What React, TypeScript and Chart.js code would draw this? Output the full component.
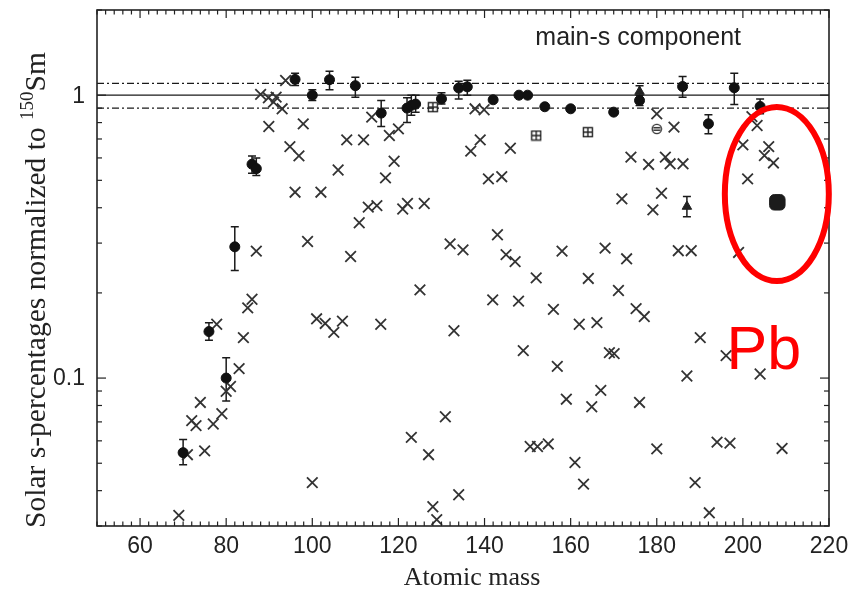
import React, { useEffect, useRef } from "react";
import { Chart, registerables } from "chart.js";
Chart.register(...registerables);

// ---- Data ----
// Other isotopes (crosses)
const crossMass = [
  69, 71, 72, 73, 74, 75, 77, 77.8, 79, 80, 81, 83, 84, 85, 86, 87, 88, 89.8, 91.6, 91, 93, 89.9,
  93.8, 94.8, 96.9, 97.9, 96, 98.9, 100, 101, 102, 103, 105, 106, 107, 108, 108.9, 110.9, 111.9,
  113, 113.8, 115, 115.9, 117, 117.9, 119, 120, 121, 122.1, 123, 125, 126, 127, 128, 128.9, 130.9,
  132, 132.9, 134, 135, 136.8, 137.8, 139, 139.9, 140.9, 141.9, 143, 144, 145, 146, 147.1, 147.9,
  149, 150.6, 152.3, 154.8, 152, 156, 156.9, 158, 159, 161, 162, 163, 164.1, 164.9, 166.1, 167,
  168, 169, 170.1, 171.1, 171.9, 173, 174, 175.2, 176, 177.1, 178.1, 179.1, 180, 180, 181.1, 182,
  183.1, 184, 185, 186.1, 187, 188, 188.9, 190.1, 192.2, 194, 196.1, 197, 199, 200, 201.1, 202.1,
  203.3, 204, 205, 206, 207.1, 209.1,
];
const crossVal = [
  0.0327, 0.0536, 0.0707, 0.0679, 0.082, 0.0553, 0.0688, 0.155, 0.0748, 0.0898, 0.0934, 0.108,
  0.139, 0.177, 0.19, 0.281, 1.006, 0.979, 0.984, 0.945, 0.895, 0.775, 1.127, 0.658, 0.61, 0.792,
  0.454, 0.304, 0.0427, 0.162, 0.454, 0.156, 0.145, 0.544, 0.159, 0.695, 0.269, 0.354, 0.695,
  0.402, 0.836, 0.407, 0.155, 0.51, 0.72, 0.584, 0.76, 0.396, 0.414, 0.0617, 0.205, 0.414, 0.0536,
  0.0351, 0.0316, 0.073, 0.298, 0.147, 0.0387, 0.284, 0.634, 0.895, 0.695, 0.888, 0.506, 0.189,
  0.321, 0.515, 0.273, 0.649, 0.258, 0.187, 0.125, 0.0573, 0.0573, 0.0585, 0.226, 0.175, 0.11,
  0.281, 0.0842, 0.0503, 0.155, 0.0422, 0.225, 0.0792, 0.157, 0.0905, 0.288, 0.123, 0.122, 0.204,
  0.43, 0.264, 0.604, 0.176, 0.082, 0.165, 0.569, 0.393, 0.859, 0.0562, 0.45, 0.604, 0.572, 0.771,
  0.282, 0.572, 0.1017, 0.282, 0.0427, 0.139, 0.0334, 0.0594, 0.12, 0.0589, 0.278, 0.667, 0.506,
  0.84, 0.781, 0.1034, 0.612, 0.658, 0.576, 0.0564,
];

// s-only isotopes (filled circles with error bars)
const sMass = [70, 76, 80, 82, 86, 87, 96, 100, 104, 110, 116, 122, 123, 124, 130, 134, 136, 142, 148, 150, 154, 160, 170, 176, 186, 192, 198, 204];
const sVal = [0.0545, 0.146, 0.1, 0.291, 0.57, 0.55, 1.137, 1.0, 1.134, 1.08, 0.864, 0.9, 0.92, 0.93, 0.97, 1.06, 1.07, 0.963, 1.0, 1.0, 0.91, 0.895, 0.871, 0.958, 1.073, 0.792, 1.062, 0.912];
const sLow = [0.0494, 0.136, 0.083, 0.24, 0.53, 0.52, 1.082, 0.958, 1.045, 0.984, 0.775, 0.8, 0.85, 0.87, 0.93, 0.97, 1.0, 0.95, 0.99, 1.0, 0.9, 0.885, 0.86, 0.92, 0.984, 0.73, 0.927, 0.86];
const sHigh = [0.0606, 0.157, 0.118, 0.343, 0.61, 0.6, 1.196, 1.045, 1.216, 1.158, 0.958, 0.98, 1.0, 1.0, 1.02, 1.12, 1.13, 0.975, 1.01, 1.0, 0.92, 0.905, 0.88, 1.0, 1.164, 0.852, 1.196, 0.97];

// p-contributed isotopes (boxed grid symbols)
const gridMass = [128, 152, 164];
const gridVal = [0.907, 0.72, 0.74];
// 180Ta (circle with bars)
const taMass = [180];
const taVal = [0.76];
// triangles with error bars
const triMass = [176, 187];
const triVal = [1.03, 0.404];
const triLow = [0.98, 0.372];
const triHigh = [1.08, 0.438];
// Pb
const pbMass = [208];
const pbVal = [0.418];

const refLevels = [1.0, 1.1, 0.9];
const xTickValues = [60, 80, 100, 120, 140, 160, 180, 200, 220];
const yTickValues = [0.1, 1];
const yTickLabels = ["0.1", "1"];
const X_MIN = 50, X_MAX = 220, Y_MIN = 0.03, Y_MAX = 2;

const toPts = (xs: number[], ys: number[]) => xs.map((x, i) => ({ x, y: ys[i] }));

function makeGridSymbol(): HTMLCanvasElement {
  const c = document.createElement("canvas");
  c.width = 12; c.height = 12;
  const g = c.getContext("2d")!;
  g.strokeStyle = "#222"; g.lineWidth = 1.4;
  g.strokeRect(1.5, 1.5, 9, 9);
  g.beginPath();
  g.moveTo(6, 1.5); g.lineTo(6, 10.5);
  g.moveTo(1.5, 6); g.lineTo(10.5, 6);
  g.stroke();
  return c;
}
function makeTaSymbol(): HTMLCanvasElement {
  const c = document.createElement("canvas");
  c.width = 12; c.height = 12;
  const g = c.getContext("2d")!;
  g.strokeStyle = "#333"; g.lineWidth = 1.4;
  g.beginPath(); g.arc(6, 6, 4.6, 0, Math.PI * 2); g.stroke();
  g.beginPath();
  g.moveTo(2.5, 4.8); g.lineTo(9.5, 4.8);
  g.moveTo(2.5, 7.2); g.lineTo(9.5, 7.2);
  g.stroke();
  return c;
}

const SANS = '"Liberation Sans", Arial, sans-serif';
const SERIF = '"Liberation Serif", "Times New Roman", serif';

const annotPlugin = {
  id: "annot",
  beforeDatasetsDraw(chart: any) {
    const { ctx, scales } = chart;
    const xs = scales.x, ys = scales.y;
    ctx.save();
    ctx.strokeStyle = "#1a1a1a";
    ctx.lineWidth = 1.5;
    const bars = (m: number[], lo: number[], hi: number[]) => {
      m.forEach((x, i) => {
        const px = xs.getPixelForValue(x);
        const y1 = ys.getPixelForValue(lo[i]);
        const y2 = ys.getPixelForValue(hi[i]);
        if (Math.abs(y1 - y2) < 3) return;
        ctx.beginPath();
        ctx.moveTo(px, y1); ctx.lineTo(px, y2);
        ctx.moveTo(px - 4, y1); ctx.lineTo(px + 4, y1);
        ctx.moveTo(px - 4, y2); ctx.lineTo(px + 4, y2);
        ctx.stroke();
      });
    };
    bars(sMass, sLow, sHigh);
    bars(triMass, triLow, triHigh);
    ctx.restore();
  },
  afterDatasetsDraw(chart: any) {
    const { ctx, chartArea: a, scales } = chart;
    const xs = scales.x, ys = scales.y;
    ctx.save();
    // frame
    ctx.strokeStyle = "#222";
    ctx.lineWidth = 1.6;
    ctx.strokeRect(a.left, a.top, a.right - a.left, a.bottom - a.top);
    ctx.lineWidth = 1.2;
    const seg = (x1: number, y1: number, x2: number, y2: number) => {
      ctx.beginPath(); ctx.moveTo(x1, y1); ctx.lineTo(x2, y2); ctx.stroke();
    };
    for (let v = X_MIN; v <= X_MAX; v += 2) {
      const px = xs.getPixelForValue(v);
      const len = v % 20 === 0 ? 8 : 4.5;
      seg(px, a.bottom, px, a.bottom - len);
      seg(px, a.top, px, a.top + len);
    }
    [0.01, 0.1, 1].forEach((d) => {
      for (let k = 1; k <= 9; k++) {
        const v = k * d;
        if (v < Y_MIN - 1e-9 || v > Y_MAX + 1e-9) continue;
        const py = ys.getPixelForValue(v);
        const len = k === 1 ? 9 : 5;
        seg(a.left, py, a.left + len, py);
        seg(a.right, py, a.right - len, py);
      }
    });

    // tick labels
    ctx.fillStyle = "#222";
    ctx.font = `23px ${SANS}`;
    ctx.textAlign = "center";
    ctx.textBaseline = "alphabetic";
    xTickValues.forEach((v) => ctx.fillText(String(v), xs.getPixelForValue(v), a.bottom + 27));
    ctx.textAlign = "right";
    ctx.textBaseline = "middle";
    yTickValues.forEach((v, i) => ctx.fillText(yTickLabels[i], a.left - 12, ys.getPixelForValue(v) + 1));

    // axis titles
    ctx.font = `26px ${SERIF}`;
    ctx.textAlign = "center";
    ctx.textBaseline = "alphabetic";
    ctx.fillText("Atomic mass", 472, 585);

    ctx.save();
    ctx.translate(45, 290);
    ctx.rotate(-Math.PI / 2);
    const big = `29.5px ${SERIF}`;
    const small = `19px ${SERIF}`;
    const p1 = "Solar s-percentages normalized to ";
    const p2 = "150";
    const p3 = "Sm";
    ctx.font = big; const w1 = ctx.measureText(p1).width; const w3 = ctx.measureText(p3).width;
    ctx.font = small; const w2 = ctx.measureText(p2).width;
    let x0 = -(w1 + w2 + w3) / 2;
    ctx.textAlign = "left";
    ctx.font = big; ctx.fillText(p1, x0, 0); x0 += w1;
    ctx.font = small; ctx.fillText(p2, x0, -12); x0 += w2;
    ctx.font = big; ctx.fillText(p3, x0, 0);
    ctx.restore();

    // component label
    ctx.font = `25px ${SANS}`;
    ctx.textAlign = "left";
    ctx.fillStyle = "#222";
    ctx.fillText("main-s component", xs.getPixelForValue(151.8), ys.getPixelForValue(1.5));

    // Pb highlight
    const cx = xs.getPixelForValue(pbMass[0]);
    const cy = ys.getPixelForValue(0.447);
    ctx.strokeStyle = "#ff0000";
    ctx.lineWidth = 6;
    ctx.beginPath();
    ctx.ellipse(cx - 0.5, cy, 52, 87, 0, 0, Math.PI * 2);
    ctx.stroke();
    ctx.fillStyle = "#ff0000";
    ctx.font = `61px ${SANS}`;
    ctx.fillText("Pb", xs.getPixelForValue(196.2), ys.getPixelForValue(0.108));
    ctx.restore();
  },
};

export default function App() {
  const ref = useRef<HTMLCanvasElement | null>(null);
  useEffect(() => {
    if (!ref.current) return;
    const gridSym = makeGridSymbol();
    const taSym = makeTaSymbol();
    const lineDs = (y: number, dash: number[]) => ({
      type: "line" as const,
      data: [{ x: X_MIN, y }, { x: X_MAX, y }],
      borderColor: "#1a1a1a",
      borderWidth: 1.3,
      borderDash: dash,
      pointRadius: 0,
      fill: false,
      order: 10,
    });
    const chart = new Chart(ref.current, {
      type: "scatter",
      data: {
        datasets: [
          lineDs(refLevels[0], []),
          lineDs(refLevels[1], [7, 3, 2, 3]),
          lineDs(refLevels[2], [7, 3, 2, 3]),
          {
            data: toPts(crossMass, crossVal),
            pointStyle: "crossRot",
            pointRadius: 7.5,
            borderColor: "#333",
            borderWidth: 1.8,
            backgroundColor: "#333",
            order: 5,
          },
          {
            data: toPts(sMass, sVal),
            pointStyle: "circle",
            pointRadius: 5,
            borderColor: "#111",
            backgroundColor: "#111",
            borderWidth: 1,
            order: 1,
          },
          {
            data: toPts(gridMass, gridVal),
            pointStyle: gridSym as any,
            pointRadius: 6,
            order: 1,
          },
          {
            data: toPts(taMass, taVal),
            pointStyle: taSym as any,
            pointRadius: 6,
            order: 1,
          },
          {
            data: toPts(triMass, triVal),
            pointStyle: "triangle",
            pointRadius: 5.5,
            borderColor: "#222",
            backgroundColor: "#222",
            order: 1,
          },
          {
            data: toPts(pbMass, pbVal),
            pointStyle: "rectRounded",
            pointRadius: 9,
            borderColor: "#1c1c1c",
            backgroundColor: "#1c1c1c",
            order: 0,
          },
        ] as any,
      },
      options: {
        animation: false,
        responsive: false,
        maintainAspectRatio: false,
        layout: { padding: { left: 0, right: 21, top: 9, bottom: 0 } },
        plugins: { legend: { display: false }, tooltip: { enabled: false }, title: { display: false } },
        scales: {
          x: {
            type: "linear",
            min: X_MIN,
            max: X_MAX,
            grid: { display: false, drawTicks: false },
            border: { display: false },
            ticks: { display: false },
            afterFit: (s: any) => { s.height = 66; s.paddingLeft = 0; s.paddingRight = 0; },
          },
          y: {
            type: "logarithmic",
            min: Y_MIN,
            max: Y_MAX,
            grid: { display: false, drawTicks: false },
            border: { display: false },
            ticks: { display: false },
            afterFit: (s: any) => { s.width = 97; s.paddingTop = 0; s.paddingBottom = 0; },
          },
        },
      } as any,
      plugins: [annotPlugin],
    });
    return () => chart.destroy();
  }, []);
  return (
    <div style={{ position: "absolute", left: 0, top: 0, width: 850, height: 592, background: "#fff" }}>
      <canvas ref={ref} width={850} height={592} />
    </div>
  );
}
